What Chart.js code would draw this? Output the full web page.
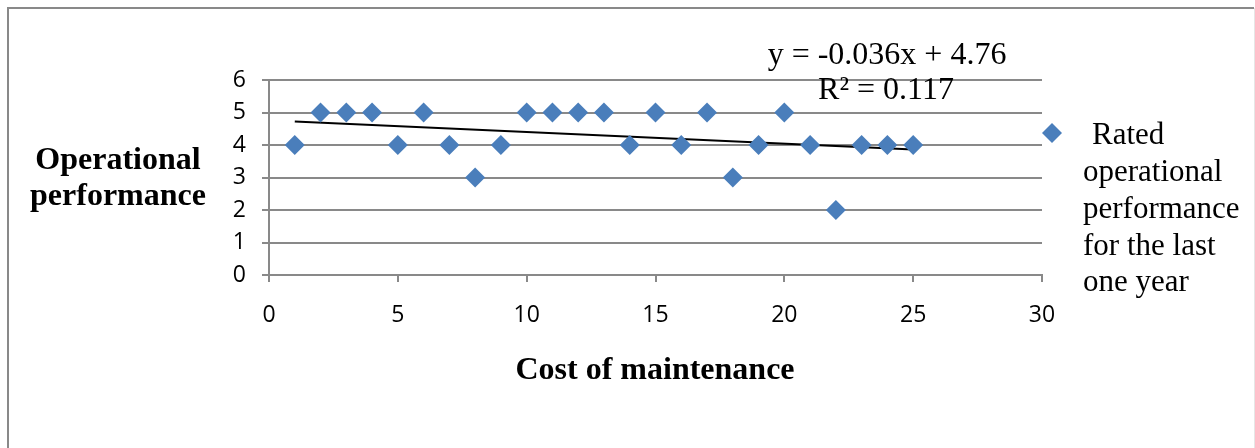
<!DOCTYPE html>
<html>
<head>
<meta charset="utf-8">
<script src="https://cdn.jsdelivr.net/npm/chart.js@4/dist/chart.umd.min.js"></script>
<style>
  html, body { margin: 0; padding: 0; background: #fff; }
  #wrap { width: 1255px; height: 448px; }
</style>
</head>
<body>
<div id="wrap"><canvas id="perfChart" width="1255" height="448"></canvas></div>
<script>
// cost of maintenance (x) and rated operational performance (y)
const costX = [1, 2, 3, 4, 5, 6, 7, 8, 9, 10, 11, 12, 13, 14, 15, 16, 17, 18, 19, 20, 21, 22, 23, 24, 25];
const ratingY = [4, 5, 5, 5, 4, 5, 4, 3, 4, 5, 5, 5, 5, 4, 5, 4, 5, 3, 4, 5, 4, 2, 4, 4, 4];

// linear trendline end points
const trendX = [1, 25];
const trendY = [4.72, 3.86];

const seriesLabel = ['Rated', 'operational', 'performance', 'for the last', 'one year'];
const yTitle = ['Operational', 'performance'];
const xTitle = 'Cost of maintenance';
const eqLines = ['y = -0.036x + 4.76', 'R\u00b2 = 0.117'];

const blue = '#4a7ebb';
const grey = '#898989';

// frame, titles, legend and equation drawn on top
const extras = {
  id: 'extras',
  afterDraw(chart) {
    const ctx = chart.ctx;
    ctx.save();
    // outer frame
    ctx.strokeStyle = grey;
    ctx.lineWidth = 2;
    ctx.beginPath();
    ctx.moveTo(8, 460);
    ctx.lineTo(8, 8);
    ctx.lineTo(1254, 8);
    ctx.stroke();
    ctx.strokeStyle = '#e6e6e6';
    ctx.lineWidth = 1;
    ctx.beginPath();
    ctx.moveTo(1254.5, 8);
    ctx.lineTo(1254.5, 448);
    ctx.stroke();

    ctx.fillStyle = '#000';
    ctx.textBaseline = 'middle';

    // axis titles
    ctx.font = 'bold 32px "Liberation Serif"';
    ctx.textAlign = 'center';
    ctx.fillText(yTitle[0], 118, 161);
    ctx.fillText(yTitle[1], 118, 197);
    ctx.fillText(xTitle, 655, 371);

    // trendline equation
    ctx.font = '32px "Liberation Serif"';
    ctx.fillText(eqLines[0], 887, 56);
    ctx.fillText(eqLines[1], 886, 91);

    // legend
    ctx.font = '31px "Liberation Serif"';
    ctx.fillStyle = blue;
    ctx.beginPath();
    ctx.moveTo(1052, 123);
    ctx.lineTo(1062, 133);
    ctx.lineTo(1052, 143);
    ctx.lineTo(1042, 133);
    ctx.closePath();
    ctx.fill();
    ctx.fillStyle = '#000';
    ctx.textAlign = 'left';
    seriesLabel.forEach((t, i) => {
      ctx.fillText(t, i === 0 ? 1092 : 1083, 136 + i * 36.8);
    });
    ctx.restore();
  }
};

const ctx = document.getElementById('perfChart').getContext('2d');
const chart = new Chart(ctx, {
  type: 'scatter',
  data: {
    datasets: [
      {
        label: seriesLabel.join(' '),
        data: costX.map((x, i) => ({ x: x, y: ratingY[i] })),
        pointStyle: 'rectRot',
        pointRadius: 10,
        pointHoverRadius: 10,
        backgroundColor: blue,
        borderColor: blue,
        borderWidth: 0
      },
      {
        type: 'line',
        label: 'Linear trend',
        data: trendX.map((x, i) => ({ x: x, y: trendY[i] })),
        borderColor: '#000',
        borderWidth: 2,
        pointRadius: 0,
        fill: false
      }
    ]
  },
  options: {
    responsive: false,
    animation: false,
    layout: { padding: { left: 209, right: 213, top: 80, bottom: 123 } },
    plugins: {
      legend: { display: false },
      tooltip: { enabled: false }
    },
    scales: {
      x: {
        type: 'linear',
        min: 0,
        max: 30,
        ticks: {
          stepSize: 5,
          color: '#000',
          padding: 20,
          font: { family: '"Open Sans"', size: 23 }
        },
        grid: { drawOnChartArea: false, tickLength: 7, color: grey, lineWidth: 2 },
        border: { color: grey, width: 2 },
        afterFit(scale) { scale.height = 50; }
      },
      y: {
        min: 0,
        max: 6,
        ticks: {
          stepSize: 1,
          color: '#000',
          padding: 16,
          font: { family: '"Open Sans"', size: 23 }
        },
        grid: { tickLength: 7, color: grey, lineWidth: 2 },
        border: { color: grey, width: 2 },
        afterFit(scale) { scale.width = 60; }
      }
    }
  },
  plugins: [extras]
});
</script>
</body>
</html>
